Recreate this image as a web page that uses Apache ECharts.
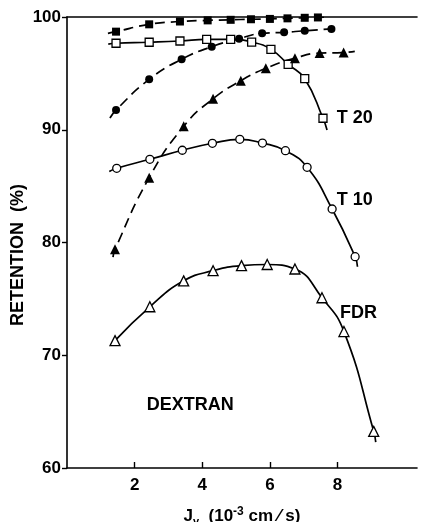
<!DOCTYPE html>
<html>
<head>
<meta charset="utf-8">
<script src="https://cdn.jsdelivr.net/npm/echarts@6/dist/echarts.min.js"></script>
<style>
html,body{margin:0;padding:0;background:#fff;}
#c{width:422px;height:522px;}
</style>
</head>
<body>
<div id="c"></div>
<script>
// ---- data ----
// filled squares (dashed)
const fsX = [1.45, 2.43, 3.34, 4.16, 4.84, 5.44, 6.0, 6.52, 7.03, 7.42];
const fsY = [98.7, 99.35, 99.6, 99.7, 99.75, 99.8, 99.83, 99.88, 99.93, 99.96];
const fsLineStart = [1.21, 98.55];
const fsLineEnd = [7.6, 99.98];
// open squares T 20 (solid)
const osX = [1.45, 2.43, 3.34, 4.13, 4.84, 5.46, 6.03, 6.54, 7.03, 7.57];
const osY = [97.67, 97.76, 97.87, 98.02, 98.02, 97.78, 97.13, 95.8, 94.53, 91.02];
const osLineStart = [1.22, 97.6];
const osLineEnd = [7.69, 89.98];
// filled circles (dashed)
const fcX = [1.45, 2.43, 3.39, 4.28, 5.09, 5.77, 6.42, 7.03, 7.82];
const fcY = [91.75, 94.47, 96.25, 97.37, 98.08, 98.55, 98.64, 98.78, 98.94];
const fcLineStart = [1.27, 91.04];
const fcLineEnd = [7.82, 98.94];
// filled triangles (dashed)
const ftX = [1.42, 2.43, 3.45, 4.32, 5.14, 5.88, 6.74, 7.47, 8.18];
const ftY = [79.4, 85.75, 90.3, 92.75, 94.35, 95.45, 96.35, 96.8, 96.85];
const ftLineStart = [1.36, 78.7];
const ftLineEnd = [8.51, 96.95];
// open circles T 10 (solid)
const ocX = [1.47, 2.45, 3.41, 4.30, 5.11, 5.78, 6.46, 7.10, 7.84, 8.52];
const ocY = [86.58, 87.38, 88.18, 88.8, 89.15, 88.82, 88.14, 86.67, 82.97, 78.74];
const ocLineStart = [1.25, 86.3];
const ocLineEnd = [8.59, 77.85];
// open triangles FDR (solid)
const otX = [1.42, 2.45, 3.45, 4.32, 5.16, 5.92, 6.74, 7.54, 8.19, 9.07];
const otY = [71.3, 74.3, 76.6, 77.5, 77.95, 78.05, 77.65, 75.1, 72.1, 63.25];
const otLineStart = [1.42, 71.3];
const otLineEnd = [9.13, 62.3];

const xTicks = [2, 4, 6, 8];
const yTicks = [60, 70, 80, 90, 100];

const annotations = [
  { text: 'T 20', x: 7.98, y: 91.0 },
  { text: 'T 10', x: 7.98, y: 83.75 },
  { text: 'FDR', x: 8.07, y: 73.75 },
  { text: 'DEXTRAN', x: 2.36, y: 65.6 }
];

const FONT = '"Liberation Sans", Arial, sans-serif';

function pts(xs, ys) { return xs.map((x, i) => [x, ys[i]]); }
function curve(start, xs, ys, end) {
  const p = pts(xs, ys);
  const out = [];
  if (start[0] < xs[0] - 1e-6) out.push(start);
  out.push(...p);
  if (end[0] > xs[xs.length - 1] + 1e-6) out.push(end);
  return out;
}

function lineSeries(data, dashed) {
  return {
    type: 'line', data: data, smooth: 0.5,
    showSymbol: false, symbol: 'none', silent: true, z: 2,
    lineStyle: { color: '#000', width: 1.7, type: dashed ? [10, 6] : 'solid' }
  };
}
function markerSeries(data, symbol, size, filled) {
  return {
    type: 'scatter', data: data, symbol: symbol, symbolSize: size, z: 5,
    itemStyle: { color: filled ? '#000' : '#fff', borderColor: '#000', borderWidth: filled ? 0 : 1.3, opacity: 1 }
  };
}

const chart = echarts.init(document.getElementById('c'), null, { renderer: 'canvas' });
chart.setOption({
  backgroundColor: '#fff',
  animation: false,
  grid: { left: 67, right: 5, top: 17, bottom: 54, containLabel: false, outerBoundsMode: 'none' },
  xAxis: [{
    type: 'value', min: 0, max: 10.35, interval: 2,
    axisLine: { show: true, onZero: false, lineStyle: { color: '#000', width: 1.6 } },
    axisTick: { show: true, inside: true, length: 6, customValues: xTicks, lineStyle: { color: '#000', width: 1.4 } },
    axisLabel: { customValues: xTicks, color: '#000', fontFamily: FONT, fontWeight: 'bold', fontSize: 17, margin: 9 },
    splitLine: { show: false },
    name: 'J{sub|v}  (10{sup|-3} cm ⁄ s)', nameLocation: 'middle', nameGap: 38,
    nameTextStyle: {
      color: '#000', fontFamily: FONT, fontWeight: 'bold', fontSize: 17,
      rich: {
        sub: { fontSize: 11, fontWeight: 'bold', fontFamily: FONT, color: '#000', verticalAlign: 'bottom', padding: [9, 0, 0, 0] },
        sup: { fontSize: 12, fontWeight: 'bold', fontFamily: FONT, color: '#000', verticalAlign: 'top', padding: [0, 0, 9, 0] }
      }
    }
  }, {
    type: 'value', position: 'top', min: 0, max: 10.35,
    axisLine: { show: true, onZero: false, lineStyle: { color: '#000', width: 1.6 } },
    axisTick: { show: false }, axisLabel: { show: false }, splitLine: { show: false }
  }],
  yAxis: {
    type: 'value', min: 60, max: 100, interval: 10,
    axisLine: { show: true, onZero: false, lineStyle: { color: '#000', width: 1.6 } },
    axisTick: { show: true, inside: false, length: 5, customValues: yTicks, lineStyle: { color: '#000', width: 1.4 } },
    axisLabel: { customValues: yTicks, color: '#000', fontFamily: FONT, fontWeight: 'bold', fontSize: 17, margin: 6 },
    splitLine: { show: false }
  },
  series: [
    lineSeries(curve(fsLineStart, fsX, fsY, fsLineEnd), true),
    lineSeries(curve(osLineStart, osX, osY, osLineEnd), false),
    lineSeries(curve(fcLineStart, fcX, fcY, fcLineEnd), true),
    lineSeries(curve(ftLineStart, ftX, ftY, ftLineEnd), true),
    lineSeries(curve(ocLineStart, ocX, ocY, ocLineEnd), false),
    lineSeries(curve(otLineStart, otX, otY, otLineEnd), false),
    markerSeries(pts(fsX, fsY), 'rect', 8, true),
    markerSeries(pts(osX, osY), 'rect', 8, false),
    markerSeries(pts(fcX, fcY), 'circle', 8, true),
    markerSeries(pts(ftX, ftY), 'triangle', 10, true),
    markerSeries(pts(ocX, ocY), 'circle', 8, false),
    markerSeries(pts(otX, otY), 'triangle', 10, false),
    {
      type: 'scatter', symbolSize: 0, silent: true, z: 6,
      itemStyle: { opacity: 1, color: '#000' },
      data: annotations.map(a => ({ value: [a.x, a.y], name: a.text })),
      label: {
        show: true, position: 'right', distance: 0, formatter: p => p.name,
        color: '#000', opacity: 1, fontFamily: FONT, fontWeight: 'bold', fontSize: 18
      }
    }
  ],
  graphic: [{
    type: 'text', x: 18, y: 255, rotation: Math.PI / 2,
    style: { text: 'RETENTION  (%)', fill: '#000', font: 'bold 18px ' + FONT, align: 'center', verticalAlign: 'middle' }
  }]
});
</script>
</body>
</html>
